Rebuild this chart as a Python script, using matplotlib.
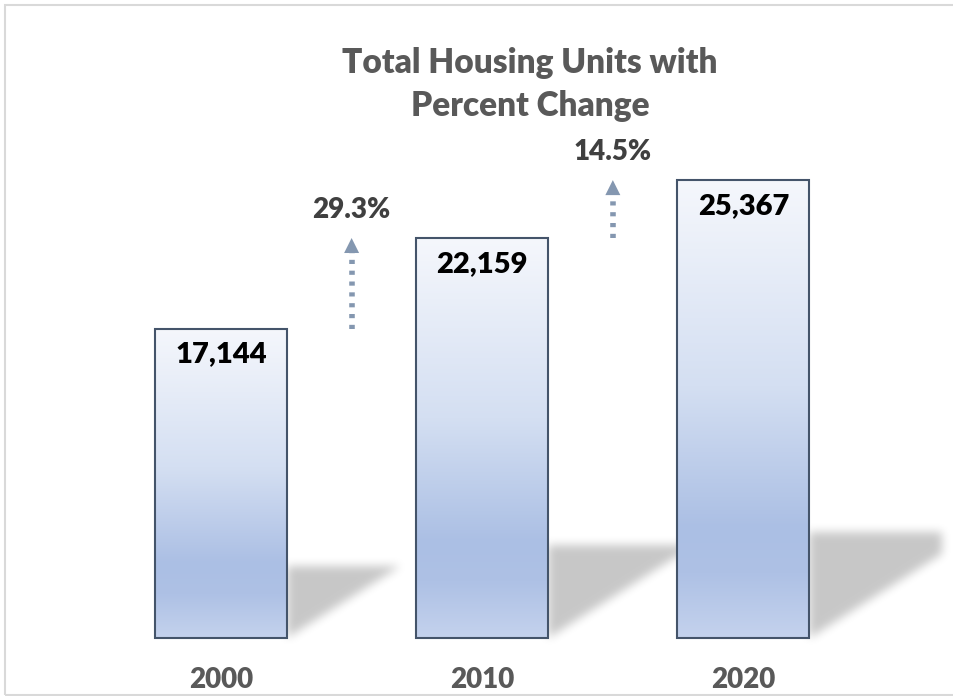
import numpy as np
import matplotlib
matplotlib.use("Agg")
import matplotlib.pyplot as plt
from matplotlib.patches import Rectangle
from matplotlib.path import Path
from matplotlib.colors import LinearSegmentedColormap

# ---- data ----
years = ["2000", "2010", "2020"]
units = [17144, 22159, 25367]
pct_change = ["29.3%", "14.5%"]
title_lines = ["Total Housing Units with", "Percent Change"]

plt.rcParams['font.family'] = ['Lato', 'DejaVu Sans']
WEIGHT = 'heavy'

W, H, DPI = 954, 696, 100
fig = plt.figure(figsize=(W / DPI, H / DPI), dpi=DPI)
ax = fig.add_axes([0, 0, 1, 1])
ax.set_xlim(-0.846, 2.806)
ax.set_ylim(-3213, 35345)
ax.axis('off')

x = np.arange(len(years))
bar_w = 0.505
edge_col = '#44546a'

# gradient colormap for bars (top -> bottom)
grad = LinearSegmentedColormap.from_list('bargrad', [
    (0.0, (245/255, 247/255, 252/255)),
    (0.45, (212/255, 223/255, 242/255)),
    (0.76, (171/255, 191/255, 228/255)),
    (0.86, (174/255, 193/255, 229/255)),
    (1.0, (196/255, 210/255, 237/255)),
])

# ---- shadows (blurred, cast to the upper right) ----
fig.canvas.draw()
tr = ax.transData
xs_pix, ys_pix = np.meshgrid(np.arange(W) + 0.5, np.arange(H) + 0.5)
pts = np.column_stack([xs_pix.ravel(), ys_pix.ravel()])
mask = np.zeros(W * H)
clip_x = 2.76
for xi, h in zip(x, units):
    r = xi + bar_w / 2
    dy = 0.232 * h
    dx_pix = (dy * (H / (35345 + 3213))) / 0.635  # pixel length of shadow
    dx = dx_pix * (3.652 / W)
    xe = min(r + dx, clip_x)
    poly = [(r, 0), (r, dy), (xe, dy), (xe, dy * (xe - r) / dx), (r, 0)]
    p = Path(tr.transform(poly))
    mask = np.maximum(mask, p.contains_points(pts).astype(float))
mask = mask.reshape(H, W)

def box_blur(a, k, axis):
    pad = k // 2
    a = np.pad(a, [(pad, pad) if i == axis else (0, 0) for i in range(2)], mode='edge')
    c = np.cumsum(a, axis=axis)
    c = np.insert(c, 0, 0, axis=axis)
    if axis == 0:
        return (c[k:] - c[:-k]) / k
    return (c[:, k:] - c[:, :-k]) / k

for _ in range(3):
    mask = box_blur(mask, 9, 0)
    mask = box_blur(mask, 9, 1)
mask = mask[:H, :W]
rgba = np.zeros((H, W, 4))
rgba[..., 3] = mask * 0.22
x0, x1 = ax.get_xlim()
y0, y1 = ax.get_ylim()
ax.imshow(rgba, extent=(x0, x1, y0, y1), origin='lower', aspect='auto',
          zorder=1, interpolation='nearest')

# ---- bars ----
gimg = np.linspace(0, 1, 256).reshape(-1, 1)
for xi, h in zip(x, units):
    im = ax.imshow(gimg, cmap=grad, extent=(xi - bar_w / 2, xi + bar_w / 2, 0, h),
                   origin='upper', aspect='auto', zorder=2, interpolation='bilinear')
    rect = Rectangle((xi - bar_w / 2, 0), bar_w, h, facecolor='none',
                     edgecolor=edge_col, lw=1.5, zorder=3)
    ax.add_patch(rect)
    im.set_clip_path(rect)
    ax.annotate(f"{h:,}", xy=(xi, h), xytext=(0, -34), textcoords='offset pixels',
                ha='center', va='baseline', fontsize=21, fontweight=WEIGHT,
                color='black', zorder=4)
    ax.annotate(years[xi], xy=(xi, 0), xytext=(0, -50), textcoords='offset pixels',
                ha='center', va='baseline', fontsize=20, fontweight=WEIGHT,
                color='#595959', zorder=4)

ax.set_xlim(x0, x1)
ax.set_ylim(y0, y1)

# ---- percent change arrows ----
arrow_col = '#8497b0'
for i, lab in enumerate(pct_change):
    xm = i + 0.5
    base, tip = units[i], units[i + 1]
    head_px = 15 * (35345 + 3213) / H
    ax.plot([xm, xm], [base, tip - head_px], color=arrow_col, lw=4,
            dashes=(0.75, 1.2), solid_capstyle='butt', dash_capstyle='butt', zorder=3)
    ax.annotate('', xy=(xm, tip), xytext=(xm, tip - head_px),
                arrowprops=dict(arrowstyle='-|>,head_length=1.0,head_width=0.5',
                                mutation_scale=10.8, color=arrow_col, lw=0,
                                shrinkA=0, shrinkB=0), zorder=3)
    ax.annotate(lab, xy=(xm, tip), xytext=(0, 20), textcoords='offset pixels',
                ha='center', va='baseline', fontsize=20, fontweight=WEIGHT,
                color='#404040', zorder=4)

# ---- title ----
fig.text(530 / W, 1 - 73 / H, title_lines[0], ha='center', va='baseline',
         fontsize=24, fontweight=WEIGHT, color='#595959')
fig.text(530 / W, 1 - 116 / H, title_lines[1], ha='center', va='baseline',
         fontsize=24, fontweight=WEIGHT, color='#595959')

# ---- border ----
fig.patches.append(Rectangle((5 / W, 1 / H), 1.2, (H - 5.5) / H, transform=fig.transFigure,
                             fill=False, edgecolor='#d9d9d9', lw=1.5))

fig.savefig('out.png', dpi=DPI)
